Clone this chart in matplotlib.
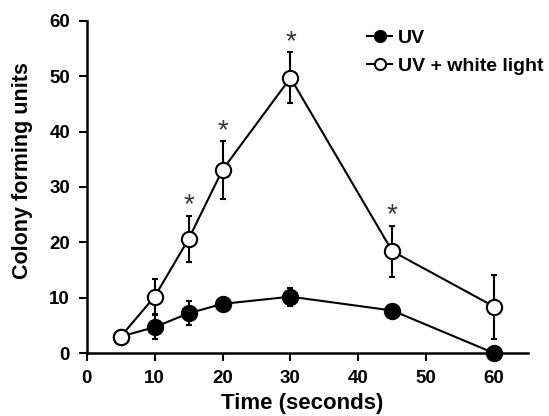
import matplotlib
matplotlib.use("Agg")
import matplotlib.pyplot as plt
from matplotlib.lines import Line2D

plt.rcParams['font.family'] = ['Liberation Sans', 'DejaVu Sans']
plt.rcParams['font.weight'] = 'bold'

# Data
time = [5, 10, 15, 20, 30, 45, 60]
uv = [3.0, 4.7, 7.2, 8.9, 10.2, 7.7, 0.0]
uv_err = [0.0, 2.2, 2.2, 0.6, 1.6, 0.6, 0.0]
uv_white = [3.0, 10.2, 20.6, 33.1, 49.7, 18.4, 8.4]
uv_white_err = [0.0, 3.2, 4.2, 5.2, 4.6, 4.6, 5.8]
star_times = [15, 20, 30, 45]

fig = plt.figure(figsize=(5.49, 4.16), dpi=100)
ax = fig.add_axes([0.158, 0.151, 0.804, 0.799])

ax.errorbar(time, uv, yerr=uv_err, color='black', marker='o', ms=11,
            mfc='black', mec='black', mew=1.5, lw=1.5, capsize=2.5,
            elinewidth=1.5, capthick=1.5, clip_on=False, zorder=3)
ax.errorbar(time, uv_white, yerr=uv_white_err, color='black', marker='o', ms=11,
            mfc='white', mec='black', mew=1.5, lw=1.5, capsize=2.5,
            elinewidth=1.5, capthick=1.5, clip_on=False, zorder=4)

# significance stars above the upper error bars
for t in star_times:
    i = time.index(t)
    ax.annotate('*', (t, uv_white[i] + uv_white_err[i]), xytext=(0, -2),
                textcoords='offset points', ha='center', va='bottom',
                fontsize=20, fontweight='normal', color='#333333')

ax.set_xlim(0, 65)
ax.set_ylim(0, 60)
ax.set_xticks([0, 10, 20, 30, 40, 50, 60])
ax.set_yticks([0, 10, 20, 30, 40, 50, 60])
ax.spines['top'].set_visible(False)
ax.spines['right'].set_visible(False)
ax.spines['left'].set_linewidth(1.8)
ax.spines['bottom'].set_linewidth(1.8)
ax.tick_params(direction='out', length=6, width=1.5, labelsize=13.5, pad=6)
for lab in ax.get_xticklabels() + ax.get_yticklabels():
    lab.set_fontweight('bold')

ax.set_xlabel('Time (seconds)', fontsize=16, fontweight='bold')
ax.set_ylabel('Colony forming units', fontsize=15.5, fontweight='bold')
ax.yaxis.set_label_coords(-0.122, 0.55)
ax.xaxis.set_label_coords(0.487, -0.12)

handles = [
    Line2D([], [], color='black', lw=1.5, marker='o', ms=8, mfc='black',
           mec='black', mew=1.5),
    Line2D([], [], color='black', lw=1.5, marker='o', ms=8, mfc='white',
           mec='black', mew=1.5),
]
leg = ax.legend(handles, ['UV', 'UV + white light'], loc='upper left',
                bbox_to_anchor=(0.635, 0.975), frameon=False, fontsize=14,
                handlelength=1.3, handletextpad=0.3, labelspacing=0.55,
                borderpad=0, borderaxespad=0)
for txt in leg.get_texts():
    txt.set_fontweight('bold')

fig.savefig('out.png', dpi=100)
